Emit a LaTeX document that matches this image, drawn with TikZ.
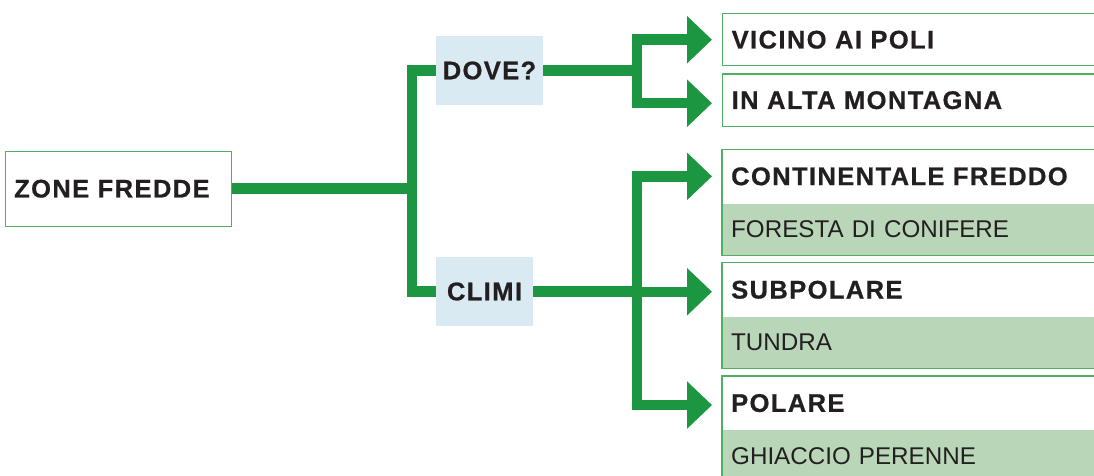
\documentclass[tikz,border=0pt]{standalone}
\usepackage{fontspec}
\setmainfont{Liberation Sans}
\newfontfamily\capsfont[LetterSpace=5.5, BoldFeatures={FakeBold=0.7}]{Liberation Sans}
\usetikzlibrary{arrows.meta}
\definecolor{branch}{HTML}{1D9641}
\definecolor{frameline}{HTML}{4FB063}
\definecolor{haze}{HTML}{DAEAF3}
\definecolor{leaf}{HTML}{B9D7B8}
\definecolor{ink}{HTML}{231F20}
\tikzset{
  capstext/.style={font=\capsfont\bfseries\fontsize{25.5}{30}\selectfont, text=ink},
  rootbox/.style={capstext, draw=frameline, line width=1.4pt, anchor=north west, inner xsep=9pt, align=left},
  askbox/.style={capstext, fill=haze, minimum height=69pt, inner sep=0pt},
  titlebox/.style={capstext, anchor=north west, inner xsep=9pt, align=left, text width=370pt, minimum height=53.7pt},
  notebox/.style={font=\fontsize{24.2}{29}\selectfont, text=ink, fill=leaf, anchor=north west, inner xsep=9pt, align=left, text width=370pt, minimum height=51.5pt},
  wire/.style={branch, line width=10.5pt},
  arrowwire/.style={wire, -{Triangle[length=25pt,width=46pt]}, shorten >=10pt}
}
\begin{document}
\begin{tikzpicture}[x=1pt, y=-1pt]
\clip (0,0) rectangle (1094,476);
\node[rootbox, text width=208pt, minimum height=75pt] (zone) at (4.5,150.5) {ZONE FREDDE};
\node[askbox, minimum width=107pt] (dove) at (489.5,70.5) {DOVE?};
\node[askbox, minimum width=97pt] (climi) at (484.5,291.5) {CLIMI};
\node[titlebox, draw=frameline, line width=1.4pt, minimum height=52pt] (vicino) at (722,13) {VICINO AI POLI};
\node[titlebox, draw=frameline, line width=1.4pt, minimum height=52.4pt] (alta) at (722,73.3) {IN ALTA MONTAGNA};
\node[titlebox] (cont) at (722,149.3) {CONTINENTALE FREDDO};
\node[notebox] (conif) at (cont.south west) {FORESTA DI CONIFERE};
\node[titlebox] (subp) at (722,262.7) {SUBPOLARE};
\node[notebox] (tundra) at (subp.south west) {TUNDRA};
\node[titlebox] (pol) at (722,376) {POLARE};
\node[notebox] (ghiac) at (pol.south west) {GHIACCIO PERENNE};
\draw[frameline, line width=1.4pt] (cont.north west) rectangle (conif.south east);
\draw[frameline, line width=1.4pt] (subp.north west) rectangle (tundra.south east);
\draw[frameline, line width=1.4pt] (pol.north west) rectangle (ghiac.south east);
\coordinate (fork) at (zone.east -| 412,0);
\coordinate (where) at (637,70.5);
\coordinate (kinds) at (637,291.5);
\draw[wire] (zone.east) -- (fork);
\draw[wire] (dove.west) -| (fork) |- (climi.west);
\draw[wire] (dove.east) -- (where);
\draw[arrowwire] (where) |- (vicino.west);
\draw[arrowwire] (where) |- ([yshift=-3pt]alta.west);
\draw[wire] (climi.east) -- (kinds);
\draw[arrowwire] (kinds) |- (cont.west);
\draw[arrowwire] (kinds) |- ([yshift=-2pt]subp.west);
\draw[arrowwire] (kinds) |- ([yshift=-2pt]pol.west);
\end{tikzpicture}
\end{document}
